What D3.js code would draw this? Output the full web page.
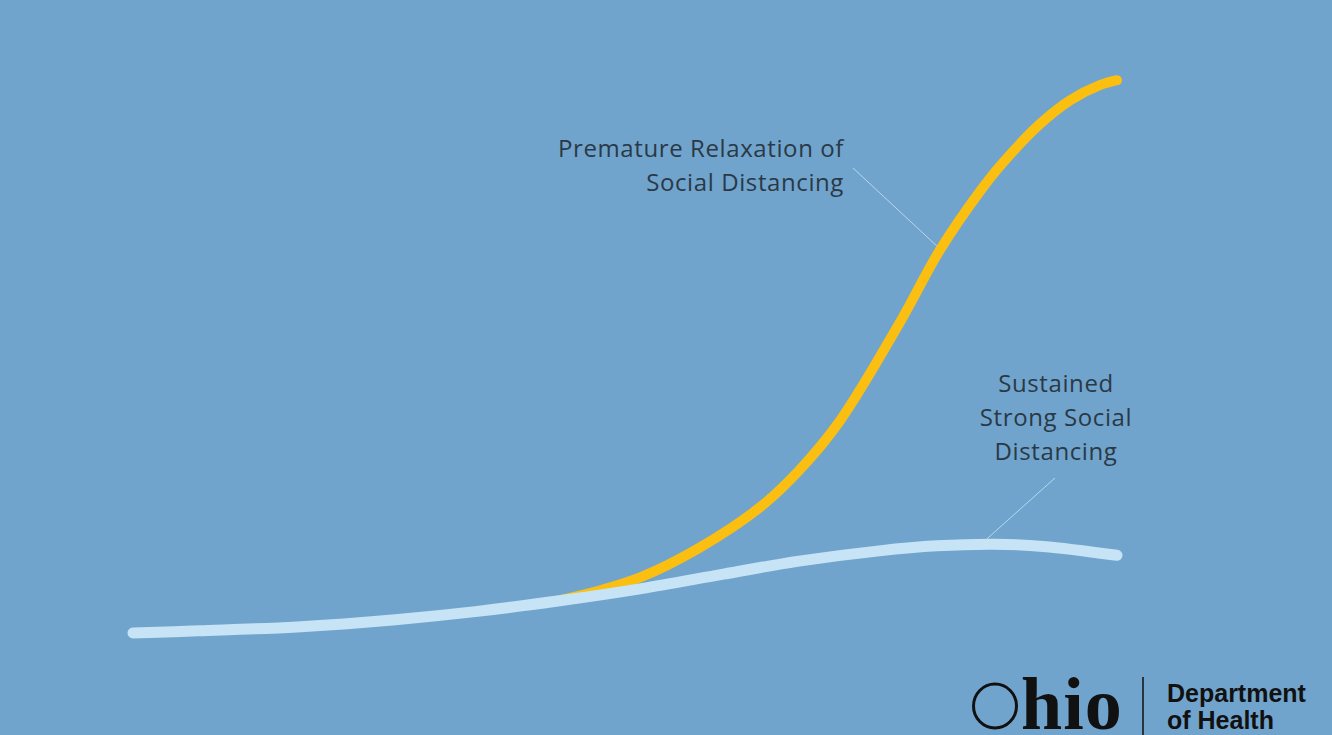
<!DOCTYPE html>
<html>
<head>
<meta charset="utf-8">
<script src="https://cdn.jsdelivr.net/npm/d3@7"></script>
<style>
  html, body { margin: 0; padding: 0; background: #71a4cc; }
  svg { display: block; }
</style>
</head>
<body>
<svg></svg>
<script>
var w = 1332,
    h = 735;

// days since start, relative case level (0-100)
var sustainedDays = [0, 8, 20, 32, 42, 52, 62, 72, 81, 91, 98, 105, 111, 120];
var sustainedVals = [0, 0.4, 1.1, 2.4, 3.9, 5.8, 8.0, 10.6, 12.9, 14.8, 15.7, 16.0, 15.6, 14.0];

var prematureDays = [52, 57, 62, 69, 76.5, 81.3, 86.2, 93.5, 98.4, 103.3, 106, 110.6, 114.3, 117.9, 120];
var prematureVals = [5.9, 7.7, 10.1, 15.3, 22.7, 29.4, 38.2, 55.9, 69.0, 79.6, 84.6, 91.7, 96.0, 98.7, 99.6];

var prematureLabel = ["Premature Relaxation of", "Social Distancing"];
var sustainedLabel = ["Sustained", "Strong Social", "Distancing"];

var vis = d3.select("svg")
    .attr("width", w)
    .attr("height", h);

vis.append("rect")
    .attr("width", w)
    .attr("height", h)
    .attr("fill", "#71a4cc");

var x = d3.scaleLinear().domain([0, 120]).range([133, 1117]);
var y = d3.scaleLinear().domain([0, 100]).range([633, 78]);

var line = d3.line()
    .x(function(d) { return x(d[0]); })
    .y(function(d) { return y(d[1]); })
    .curve(d3.curveCatmullRom.alpha(0.5));

var premature = d3.zip(prematureDays, prematureVals);
var sustained = d3.zip(sustainedDays, sustainedVals);

vis.append("path")
    .datum(premature)
    .attr("d", line)
    .attr("fill", "none")
    .attr("stroke", "#fbbf12")
    .attr("stroke-width", 10)
    .attr("stroke-linecap", "round");

vis.append("path")
    .datum(sustained)
    .attr("d", line)
    .attr("fill", "none")
    .attr("stroke", "#c6e4f6")
    .attr("stroke-width", 11)
    .attr("stroke-linecap", "round");

// leader lines
vis.append("line")
    .attr("x1", 853).attr("y1", 168)
    .attr("x2", x(98.4) - 3).attr("y2", y(69.0) - 4)
    .attr("stroke", "#b7d8ee")
    .attr("stroke-width", 1);

vis.append("line")
    .attr("x1", 1055).attr("y1", 478)
    .attr("x2", 987).attr("y2", y(15.9) - 6)
    .attr("stroke", "#b7d8ee")
    .attr("stroke-width", 1);

var labelFont = "'Open Sans', 'Noto Sans', sans-serif";

vis.append("g")
    .selectAll("text")
    .data(prematureLabel)
    .join("text")
    .attr("x", 844)
    .attr("y", function(d, i) { return 157 + i * 34; })
    .attr("text-anchor", "end")
    .attr("font-family", labelFont)
    .attr("font-size", 24)
    .attr("font-weight", 500)
    .attr("letter-spacing", 0.6)
    .attr("fill", "#2a3946")
    .text(function(d) { return d; });

vis.append("g")
    .selectAll("text")
    .data(sustainedLabel)
    .join("text")
    .attr("x", 1056)
    .attr("y", function(d, i) { return 392 + i * 34; })
    .attr("text-anchor", "middle")
    .attr("font-family", labelFont)
    .attr("font-size", 24)
    .attr("font-weight", 500)
    .attr("letter-spacing", 0.6)
    .attr("fill", "#2a3946")
    .text(function(d) { return d; });

// Ohio Department of Health logo
var logo = vis.append("g");

logo.append("ellipse")
    .attr("cx", 995)
    .attr("cy", 706)
    .attr("rx", 21.5)
    .attr("ry", 22)
    .attr("fill", "none")
    .attr("stroke", "#111")
    .attr("stroke-width", 3);

logo.append("text")
    .attr("x", 1021)
    .attr("y", 729)
    .attr("font-family", "'Liberation Serif', serif")
    .attr("font-weight", "bold")
    .attr("font-size", 74)
    .attr("letter-spacing", 1)
    .attr("fill", "#111")
    .text("hio");

logo.append("line")
    .attr("x1", 1143).attr("y1", 677)
    .attr("x2", 1143).attr("y2", 735)
    .attr("stroke", "#111")
    .attr("stroke-width", 1.5);

logo.append("text")
    .attr("x", 1167)
    .attr("y", 702)
    .attr("font-family", "'Liberation Sans', Arial, sans-serif")
    .attr("font-weight", "bold")
    .attr("font-size", 25)
    .attr("fill", "#111")
    .text("Department");

logo.append("text")
    .attr("x", 1167)
    .attr("y", 729)
    .attr("font-family", "'Liberation Sans', Arial, sans-serif")
    .attr("font-weight", "bold")
    .attr("font-size", 25)
    .attr("fill", "#111")
    .text("of Health");
</script>
</body>
</html>
